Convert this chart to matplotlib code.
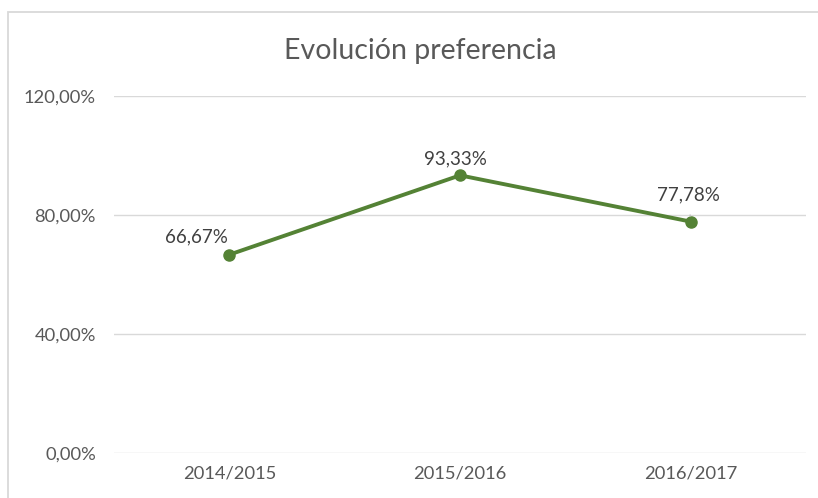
import matplotlib.pyplot as plt
from matplotlib.patches import Rectangle
from matplotlib.ticker import FuncFormatter

categories = ['2014/2015', '2015/2016', '2016/2017']
values = [66.67, 93.33, 77.78]
label_offsets = [(-24, 13), (-3.5, 11.5), (-1.5, 19)]
yticks = [0, 40, 80, 120]

plt.rcParams['font.family'] = ['Lato', 'DejaVu Sans']

fig = plt.figure(figsize=(8.18, 4.98), dpi=100)
ax = fig.add_axes([114 / 818, 45 / 498, 692 / 818, 357 / 498])

# border around the chart area
fig.patches.append(Rectangle((8 / 818, -0.05), 1.0, 1.05 - 12 / 498, transform=fig.transFigure,
                             fill=False, edgecolor='#d9d9d9', linewidth=1.3))

x = list(range(len(categories)))
ax.plot(x, values, color='#548235', linewidth=2.8, marker='o', markersize=8, zorder=3)

for i, (xi, v, off) in enumerate(zip(x, values, label_offsets)):
    arrow = dict(arrowstyle='-', color='#bfbfbf', lw=0.8, shrinkA=6, shrinkB=4) if i == 2 else None
    ax.annotate(f'{v:.2f}%'.replace('.', ','), (xi, v), xytext=off, textcoords='offset points',
                ha='center', va='center', fontsize=13.5, color='#404040', arrowprops=arrow)

ax.set_xlim(-0.5, 2.5)
ax.set_ylim(0, 120)
ax.set_yticks(yticks)
ax.yaxis.set_major_formatter(FuncFormatter(lambda v, p: f'{v:.2f}%'.replace('.', ',')))
ax.set_xticks(x)
ax.set_xticklabels(categories)
ax.grid(axis='y', color='#d9d9d9', linewidth=1)
ax.set_axisbelow(True)
for s in ax.spines.values():
    s.set_visible(False)
ax.tick_params(length=0, labelsize=13.2, labelcolor='#595959')
ax.tick_params(axis='y', pad=13)
ax.tick_params(axis='x', pad=9)

fig.text(0.514, 1 - 51 / 498, 'Evolución preferencia', ha='center', va='center', fontsize=20.5, color='#595959')

fig.savefig('out.png', dpi=100)
